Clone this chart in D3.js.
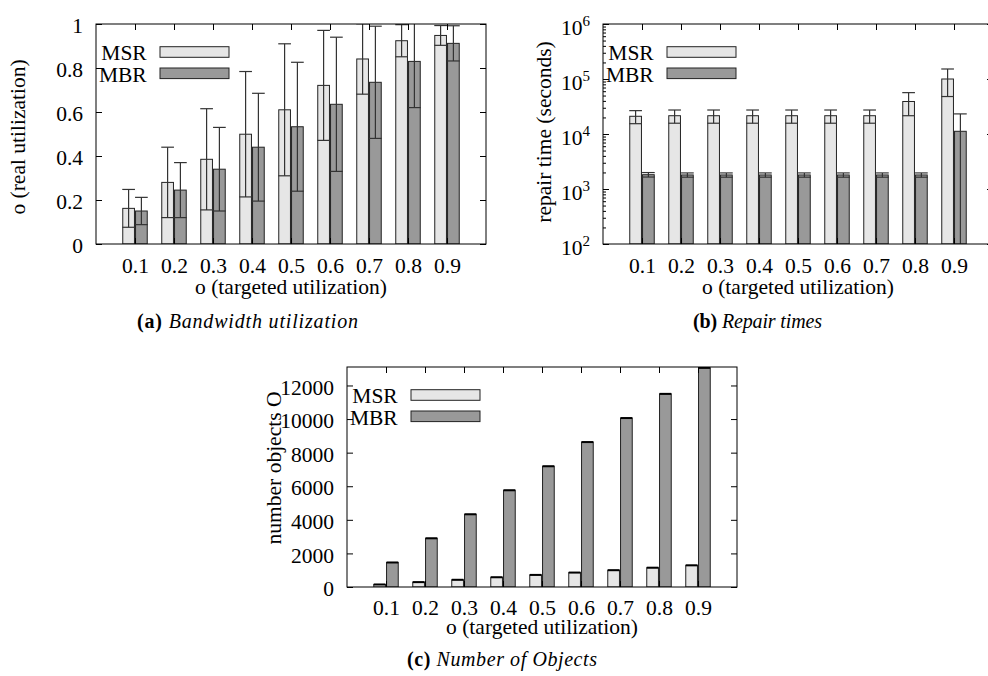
<!DOCTYPE html>
<html><head><meta charset="utf-8">
<script src="https://cdn.jsdelivr.net/npm/d3@7"></script>
<style>
body{margin:0;background:#fff}
svg{display:block}
text{fill:#000}
</style>
</head><body>
<svg id="chart" width="988" height="676"></svg>
<script>
// ---------- data ----------
const categories = [0.1, 0.2, 0.3, 0.4, 0.5, 0.6, 0.7, 0.8, 0.9];
const seriesNames = ["MSR", "MBR"];

// (a) bandwidth utilization: mean and error
const utilMSR    = [0.162, 0.280, 0.385, 0.499, 0.610, 0.721, 0.841, 0.924, 0.948];
const utilMSRErr = [0.086, 0.160, 0.230, 0.285, 0.300, 0.250, 0.160, 0.073, 0.045];
const utilMBR    = [0.150, 0.245, 0.340, 0.440, 0.533, 0.635, 0.735, 0.830, 0.912];
const utilMBRErr = [0.062, 0.125, 0.190, 0.245, 0.293, 0.305, 0.255, 0.210, 0.080];
const utilTicks  = [0, 0.2, 0.4, 0.6, 0.8, 1];

// (b) repair times (seconds)
const repairMSR    = [21000, 21500, 21500, 21500, 21500, 21500, 21500, 39000, 100000];
const repairMSRErr = [5600, 5800, 5800, 5800, 5800, 5800, 5800, 17500, 52000];
const repairMBR    = [1820, 1800, 1800, 1800, 1800, 1800, 1800, 1800, 11200];
const repairMBRErr = [170, 160, 160, 160, 160, 160, 160, 160, 12000];
const repairTicks  = [1e2, 1e3, 1e4, 1e5, 1e6];

// (c) number of objects
const objMSR   = [150, 290, 430, 580, 720, 860, 1000, 1150, 1290];
const objMBR   = [1460, 2900, 4330, 5760, 7190, 8630, 10060, 11500, 13050];
const objTicks = [0, 2000, 4000, 6000, 8000, 10000, 12000];
const objMax   = 13100;

const captions = [
  {tag: "(a)", text: "Bandwidth utilization", cx: 247.5, y: 328, w: 221},
  {tag: "(b)", text: "Repair times", cx: 757.5, y: 328, w: 129},
  {tag: "(c)", text: "Number of Objects", cx: 502, y: 666, w: 190}
];

// ---------- font detection ----------
function pickFont(cands) {
  const ctx = document.createElement("canvas").getContext("2d");
  const s = "0.8 MSR (targeted utilization) Ojb 12000";
  const w = f => { ctx.font = f; return ctx.measureText(s).width; };
  for (const f of cands) {
    const a = w(`20px "${f}", monospace`), b = w("20px monospace");
    const c = w(`20px "${f}", sans-serif`), d = w("20px sans-serif");
    if (Math.abs(a - b) > 0.5 && Math.abs(c - d) > 0.5) return `"${f}", serif`;
  }
  return "serif";
}
const FONT = pickFont(["Liberation Serif", "Tinos", "Times New Roman", "Nimbus Roman",
  "Nimbus Roman No9 L", "TeX Gyre Termes", "FreeSerif", "Noto Serif", "DejaVu Serif"]);

// ---------- styles ----------
const fills = ["#e6e6e6", "#999999"];
const W = 390, H = 220;
const FS = 21.5;

const svg = d3.select("#chart").attr("font-family", FONT);

function panel(cfg) {
  const g = svg.append("g").attr("transform", `translate(${cfg.left},${cfg.top})`);
  const clipId = "clip" + cfg.id;
  g.append("clipPath").attr("id", clipId).append("rect")
    .attr("x", 0).attr("y", 0).attr("width", W).attr("height", H);

  const x = d3.scaleLinear().domain([0, 1]).range([0, W]);
  const y = cfg.y;
  const bw = x(0.03) - x(0);
  const off = x(0.0164) - x(0);

  const plot = g.append("g").attr("clip-path", `url(#${clipId})`);

  cfg.series.forEach((s, si) => {
    const dx = si === 0 ? -off : off;
    const rows = categories.map((c, i) => ({c, v: s.values[i], e: s.err ? s.err[i] : null}));
    plot.selectAll(null).data(rows).enter().append("rect")
      .attr("x", d => x(d.c) + dx - bw / 2)
      .attr("y", d => y(d.v))
      .attr("width", bw)
      .attr("height", d => y(cfg.base) - y(d.v))
      .attr("fill", fills[si])
      .attr("stroke", "#222")
      .attr("stroke-width", 1);
    if (cfg.topCap) {
      plot.selectAll(null).data(rows).enter().append("line")
        .attr("x1", d => x(d.c) + dx - bw / 2)
        .attr("x2", d => x(d.c) + dx + bw / 2)
        .attr("y1", d => y(d.v)).attr("y2", d => y(d.v))
        .attr("stroke", "#000").attr("stroke-width", 2);
    }
    if (s.err) {
      const lo = d => {
        const v = d.v - d.e;
        return cfg.log && v <= 0 ? cfg.base * 0.5 : v;
      };
      const eg = plot.append("g").attr("stroke", "#333").attr("stroke-width", 1.2);
      eg.selectAll(null).data(rows).enter().append("line")
        .attr("x1", d => x(d.c) + dx).attr("x2", d => x(d.c) + dx)
        .attr("y1", d => y(lo(d)))
        .attr("y2", d => y(d.v + d.e));
      [d => d.v + d.e, d => d.v - d.e].forEach(fn => {
        eg.selectAll(null).data(rows.filter(d => !cfg.log || fn(d) > 0)).enter().append("line")
          .attr("x1", d => x(d.c) + dx - bw / 2 - 0.5)
          .attr("x2", d => x(d.c) + dx + bw / 2 + 0.5)
          .attr("y1", d => y(fn(d))).attr("y2", d => y(fn(d)));
      });
    }
  });

  // axes
  const styleAxis = sel => {
    sel.attr("font-family", FONT).attr("font-size", FS);
    sel.select(".domain").remove();
    sel.selectAll(".tick line").attr("stroke", "#000").attr("stroke-width", 1);
    sel.selectAll("text").attr("fill", "#000");
  };
  const yl = d3.axisLeft(y).tickValues(cfg.ticks).tickSize(-6).tickPadding(13)
    .tickFormat(cfg.log ? () => "" : d => String(d));
  const yAx = g.append("g").call(yl).call(styleAxis);
  yAx.selectAll("text").attr("dy", "0.4em");
  if (cfg.log) {
    yAx.selectAll(".tick text").each(function (d) {
      const t = d3.select(this).attr("dy", null).attr("y", 10);
      t.append("tspan").text("10");
      t.append("tspan").attr("font-size", 15).attr("dy", -9).text(Math.round(Math.log10(d)));
    });
    const minor = [];
    for (let k = 2; k < 6; k++) for (let m = 2; m < 10; m++) minor.push(m * Math.pow(10, k));
    g.append("g").call(d3.axisLeft(y).tickValues(minor).tickSize(-3).tickFormat("")).call(styleAxis);
    g.append("g").attr("transform", `translate(${W},0)`)
      .call(d3.axisRight(y).tickValues(minor).tickSize(-3).tickFormat("")).call(styleAxis);
  }
  g.append("g").attr("transform", `translate(${W},0)`)
    .call(d3.axisRight(y).tickValues(cfg.ticks).tickSize(-6).tickFormat("")).call(styleAxis);
  g.append("g").attr("transform", `translate(0,${H})`)
    .call(d3.axisBottom(x).tickValues(categories).tickSize(-6).tickPadding(cfg.tickPad).tickFormat(d => d.toFixed(1)))
    .call(styleAxis);
  g.append("g").call(d3.axisTop(x).tickValues(categories).tickSize(-6).tickFormat("")).call(styleAxis);

  // frame
  g.append("rect").attr("width", W).attr("height", H)
    .attr("fill", "none").attr("stroke", "#000").attr("stroke-width", 1);

  // titles
  g.append("text").attr("x", W / 2).attr("y", H + cfg.xtOff).attr("text-anchor", "middle")
    .attr("font-size", FS).text("o (targeted utilization)");
  g.append("text").attr("transform", `translate(${cfg.ytx},${cfg.yty}) rotate(-90)`)
    .attr("text-anchor", "middle").attr("font-size", FS).text(cfg.ytitle);

  // legend
  seriesNames.forEach((n, i) => {
    g.append("text").attr("x", 50.7).attr("y", 36 + i * 21.5)
      .attr("text-anchor", "end").attr("font-size", FS).text(n);
    g.append("rect").attr("x", 64).attr("y", 22.7 + i * 21.3)
      .attr("width", 69).attr("height", 10.6)
      .attr("fill", fills[i]).attr("stroke", "#222").attr("stroke-width", 1);
  });
}

panel({
  id: "a", left: 96, top: 24, tickPad: 14, xtOff: 50,
  y: d3.scaleLinear().domain([0, 1]).range([H, 0]),
  base: 0, ticks: utilTicks,
  series: [{values: utilMSR, err: utilMSRErr}, {values: utilMBR, err: utilMBRErr}],
  ytitle: "o (real utilization)", ytx: -71, yty: 113
});
panel({
  id: "b", left: 603, top: 24, log: true, tickPad: 14, xtOff: 50,
  y: d3.scaleLog().domain([1e2, 1e6]).range([H, 0]),
  base: 1e2, ticks: repairTicks,
  series: [{values: repairMSR, err: repairMSRErr}, {values: repairMBR, err: repairMBRErr}],
  ytitle: "repair time (seconds)", ytx: -52, yty: 108
});
panel({
  id: "c", left: 347, top: 367, topCap: true, tickPad: 12.5, xtOff: 47,
  y: d3.scaleLinear().domain([0, objMax]).range([H, 0]),
  base: 0, ticks: objTicks,
  series: [{values: objMSR}, {values: objMBR}],
  ytitle: "number objects O", ytx: -66, yty: 101
});

// captions
captions.forEach(c => {
  const t = svg.append("text").attr("x", c.cx).attr("y", c.y).attr("text-anchor", "middle")
    .attr("font-size", 20).attr("textLength", c.w).attr("lengthAdjust", "spacing");
  t.append("tspan").attr("font-weight", "bold").text(c.tag + " ");
  t.append("tspan").attr("font-style", "italic").text(c.text);
});
</script>
</body></html>
